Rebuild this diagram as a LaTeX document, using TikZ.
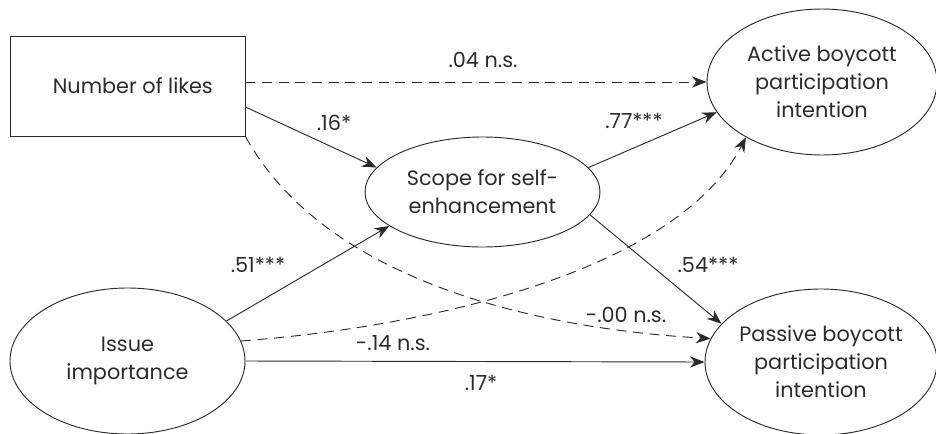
\documentclass[tikz,border=0pt]{standalone}
\usepackage{fontspec}
\setmainfont{Poppins}
\usetikzlibrary{arrows.meta,shapes.geometric}
\definecolor{ink}{HTML}{2B2B2B}
\begin{document}
\begin{tikzpicture}[x=0.75pt,y=-0.75pt,
  font=\fontsize{15.6}{21}\selectfont, text=ink,
  every node/.style={align=center},
  ell/.style={draw=ink, line width=0.7pt, ellipse, inner sep=0pt},
  rbox/.style={draw=ink, line width=0.7pt, rectangle, inner sep=0pt, minimum width=176.25pt, minimum height=75pt},
  path/.style={draw=ink, line width=0.7pt, -{Stealth[length=11pt,width=8.5pt]}},
  ns/.style={path, dash pattern=on 7.5pt off 5pt},
  lab/.style={inner sep=0pt}
]
\useasboundingbox (0,0) rectangle (936,433);

\node[rbox] (box) at (127.5,86) {\hspace*{8pt}Number of likes};
\node[ell, minimum width=172.5pt, minimum height=109.5pt] (act) at (822,82) {Active boycott\\participation\\intention};
\node[ell, minimum width=176.25pt, minimum height=82.5pt] (scope) at (482.5,192) {Scope for self-\\enhancement};
\node[ell, minimum width=176.25pt, minimum height=109.5pt] (iss) at (127.5,361) {Issue\\importance};
\node[ell, minimum width=174pt, minimum height=109.5pt] (pas) at (821,362) {Passive boycott\\participation\\intention};

% paths
\draw[ns] ([yshift=3pt]box.east) -- (act.west);
\draw[path] ([yshift=-15.75pt]box.east) -- (scope.167);
\draw[path] (scope.13) -- (act.196);
\draw[path] (scope.-12) -- (pas.159);
\draw[path] (iss.22) -- (scope.200);
\draw[ns] (box.south east) .. controls (330,290) and (560,330) .. (pas.168);
\draw[ns] (iss.10) .. controls (450,325) and (680,265) .. (act.216);
\draw[path] (iss.east) -- (pas.west);

% labels
\node[lab] (l04) at (483,60) {.04 n.s.};
\node[lab] (l16) at (334,123) {.16*};
\node[lab] (l77) at (634,121) {.77***};
\node[lab] (l54) at (708,265) {.54***};
\node[lab] (l51) at (258,265) {.51***};
\node[lab] (l00) at (626,315) {-.00 n.s.};
\node[lab] (l14) at (393,343) {-.14 n.s.};
\node[lab] (l17) at (481,383) {.17*};
\end{tikzpicture}
\end{document}
